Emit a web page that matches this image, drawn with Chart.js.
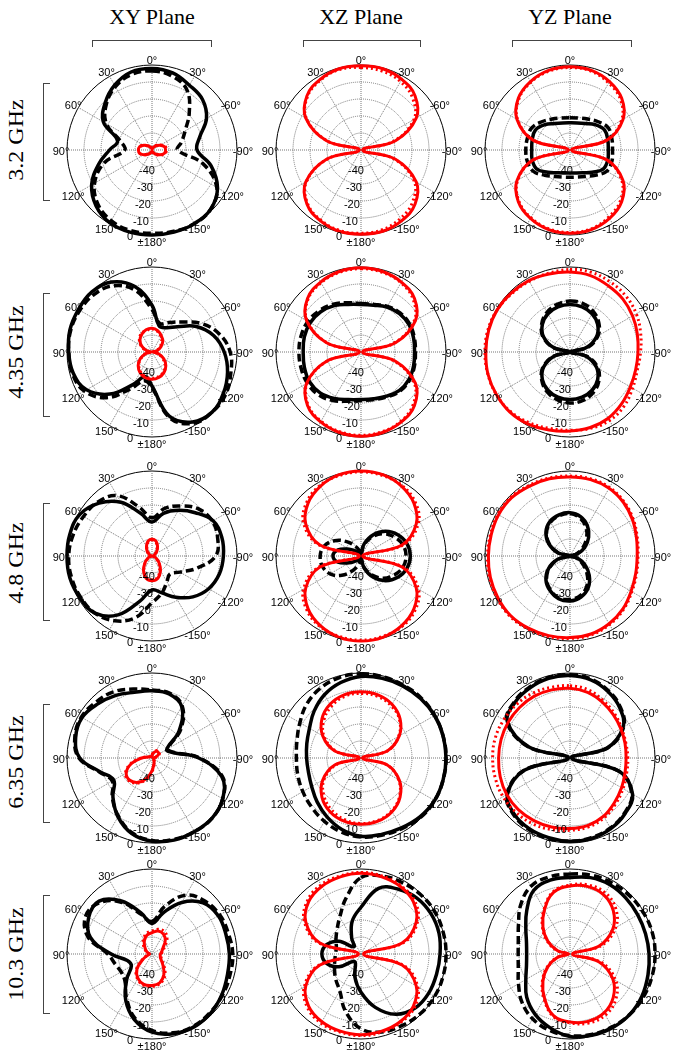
<!DOCTYPE html>
<html lang="en">
<head>
  <meta charset="UTF-8" />
  <title>Radiation patterns</title>
  <script src="https://cdn.jsdelivr.net/npm/chart.js"></script>
  <style>
    body { margin: 0; background: #fff; }
    #page {
      position: relative; width: 674px; height: 1055px; overflow: hidden;
      font-family: "Liberation Serif", "Times New Roman", serif; color: #000;
    }
    .plane {
      position: absolute; top: 3px; width: 160px; margin-left: -80px;
      text-align: center; font-size: 22px; line-height: 28px;
      font-family: "Liberation Serif", "Times New Roman", serif;
    }
    .btop {
      position: absolute; top: 40px; height: 6px;
      border: 1.5px solid #444; border-bottom: none;
    }
    .freq {
      position: absolute; left: 16px; font-size: 20px; white-space: nowrap;
      transform: translate(-50%, -50%) rotate(-90deg) scaleX(1.2);
    }
    .bleft {
      position: absolute; left: 43px; width: 6px;
      border: 1.5px solid #444; border-right: none;
    }
    canvas { position: absolute; }
  </style>
</head>
<body>
<div id="page"></div>
<script>
  // category angles, 15 deg steps clockwise from the top of each plot
  const angles = [0, -15, -30, -45, -60, -75, -90, -105, -120, -135, -150, -165,
                  180, 165, 150, 135, 120, 105, 90, 75, 60, 45, 30, 15];
  const spokeLabels = ['0°', '30°', '-60°', '-90°', '-120°', '-150°', '±180°', '150°', '120°', '90°', '60°', '30°'];
  const radialTicks = [-40, -30, -20, -10, 0];
  const planes = ['XY Plane', 'XZ Plane', 'YZ Plane'];
  const freqs = ['3.2 GHz', '4.35 GHz', '4.8 GHz', '6.35 GHz', '10.3 GHz'];

  // gain in dB (co = black, cr = red; Sim = solid, Mea = dashed / dotted)
  const xy32_coSim = [-2,-3,-6,-8,-13,-21,-23.5,-14,-5.5,-1,0,0,0,0,-0.5,-3.5,-9,-17.5,-25,-29,-17,-11,-6,-2.5];
  const xy32_coMea = [-3.5,-5,-9,-19,-27.5,-32,-35,-19,-6,-1,0,-0.5,-1,-1,-2,-5,-11,-21,-34,-31,-19,-12,-7,-4];
  const xy32_crSim = [-49.5,-49,-48,-46.5,-44.5,-42.5,-42,-42.5,-44.5,-46.5,-48,-49,-49.5,-49,-48,-46.5,-44.5,-42.5,-42,-42.5,-44.5,-46.5,-48,-49];
  const xy32_crMea = [-49.5,-49,-47.5,-46,-44,-42,-41.5,-42,-44,-46,-47.5,-49,-49.5,-49,-48,-46.5,-44.5,-42.5,-42,-42.5,-44.5,-46.5,-48,-49];

  const xz32_crSim = [-0.5,-0.5,-2,-5,-12.5,-29,-49,-29,-12.5,-5,-2,-0.5,-0.5,-0.5,-2,-5,-12.5,-29,-49,-29,-12.5,-5,-2,-0.5];
  const xz32_crMea = [-1.5,-2,-3.5,-7,-14,-30,-49,-30,-14,-7,-3.5,-1.5,-1,-1,-2.5,-5.5,-13,-29.5,-49,-29.5,-13,-5.5,-2.5,-1];

  const yz32_coSim = [-34,-33.5,-32,-29,-26.5,-27,-27.5,-27,-27.5,-31.5,-34.5,-36,-36.5,-36,-34.5,-31.5,-27.5,-27,-27.5,-27,-26.5,-29,-32,-33.5];
  const yz32_coMea = [-31,-30.5,-29,-26.5,-24,-24.5,-25,-24.5,-25,-29,-32,-33.5,-34,-33.5,-32,-29,-25,-24,-24,-24,-24,-26.5,-29,-30.5];
  const yz32_crSim = [-1,-1.5,-3.5,-7,-14,-27.5,-49,-27.5,-14,-7,-3.5,-1.5,-1,-1.5,-3.5,-7,-14,-27.5,-49,-27.5,-14,-7,-3.5,-1.5];
  const yz32_crMea = [-1.5,-2,-4.5,-8,-15,-28,-49,-28,-15,-8,-4.5,-2,-1.5,-2,-4,-7.5,-14.5,-28,-49,-28,-14.5,-7.5,-4,-2];

  const xy435_coSim = [-22.5,-34,-33.5,-29,-20,-12.5,-7.5,-4,-1.5,0,-2.5,-11,-30,-35,-28,-15,-5.5,-2,-1,0,0,0,-2.5,-10];
  const xy435_coMea = [-25,-32.5,-30,-25,-16.5,-9,-4,-2,0,0,-1.5,-10,-29,-32.5,-25,-12,-4,-1.5,-1,-0.5,-1,-2,-5,-12.5];
  const xy435_crSim = [-36,-37,-39,-41,-44,-47,-49.5,-46,-42,-38.5,-36,-34.5,-34,-34.5,-36,-38.5,-42,-46,-49.5,-46.5,-43,-40,-38,-36.5];
  const xy435_crMea = [-36.5,-37.5,-39.5,-42,-45,-47.5,-49.5,-46.5,-43,-39,-36.5,-35,-34.5,-35,-36.5,-39,-42.5,-46,-49.5,-46,-42.5,-39.5,-37.5,-37];

  const xz435_coSim = [-22,-21.5,-19.5,-18,-17.5,-18,-18.5,-18,-17.5,-18,-20,-21.5,-22,-21,-18.5,-16,-15,-15.5,-16,-15.5,-15.5,-16.5,-18.5,-21];
  const xz435_coMea = [-21.5,-21,-19,-17.5,-17,-17.5,-18,-17.5,-17,-17.5,-19.5,-21,-21.5,-20,-17,-14.5,-13.5,-13.5,-13.5,-13.5,-14,-15.5,-17.5,-20];
  const xz435_crSim = [-0.5,-1,-2.5,-5.5,-13,-29,-49,-29,-13,-5.5,-2.5,-1,-0.5,-1,-2.5,-5.5,-13,-29,-49,-29,-13,-5.5,-2.5,-1];
  const xz435_crMea = [-1,-1.5,-3,-6.5,-14,-30,-49,-30,-14,-6.5,-3,-1.5,-1,-1.5,-3,-6,-13.5,-29.5,-49,-29.5,-13.5,-6,-3,-1.5];

  const yz435_coSim = [-22,-22.5,-24,-27,-32,-40,-49.5,-40,-32,-27,-24,-22.5,-22,-22.5,-24,-27,-32,-40,-49.5,-40,-32,-27,-24,-22.5];
  const yz435_coMea = [-20,-20.5,-22.5,-26,-31,-39,-49.5,-39,-31,-26,-22.5,-20.5,-20,-21,-23,-26.5,-31.5,-39.5,-49.5,-39.5,-31.5,-26.5,-23,-21];
  const yz435_crSim = [-3,-3.5,-5,-6,-7.5,-9,-10,-10,-9,-7,-5,-4,-3.5,-2.5,-1,0,0,0,-0.5,-0.5,-0.5,-1,-1.5,-2.5];
  const yz435_crMea = [-1.5,-1.5,-2.5,-3.5,-5,-7,-8.5,-9,-7.5,-5,-3.5,-3.5,-4,-3.5,-2,-0.5,0,0,0,0,-0.5,-1.5,-2,-2];

  const xy48_coSim = [-30,-24,-19,-14,-8.5,-7.5,-8,-9,-11.5,-16,-22,-27.5,-30,-22.5,-10,-2.5,-1,0,0,0,-1,-6,-13.5,-24];
  const xy48_coMea = [-27.5,-21,-16,-11,-9,-10,-12.5,-22.5,-31,-35,-32.5,-27.5,-22.5,-12.5,-6,-2.5,-1.5,-1,-1,-2,-3.5,-5,-9,-20];
  const xy48_crSim = [-40,-41,-43.5,-46,-48,-49,-49.5,-49,-47,-44,-40,-36.5,-35.5,-36.5,-40,-44,-47,-49,-49.5,-49,-48,-46,-43.5,-41];
  const xy48_crMea = [-40.5,-41.5,-44,-46.5,-48,-49,-49.5,-49,-47.5,-44.5,-41,-37,-36,-37,-40.5,-44.5,-47.5,-49,-49.5,-49,-48,-46.5,-44,-41.5];

  const xz48_coSim = [-49,-42.5,-35.5,-29.5,-25,-22,-21,-22,-25,-29.5,-35.5,-42.5,-49,-48.5,-47.5,-46,-42,-36,-33.5,-36,-42,-46,-47.5,-48.5];
  const xz48_coMea = [-49,-43,-37,-31.5,-27.5,-24.5,-23.5,-24.5,-27.5,-31.5,-37,-43,-48,-45,-40,-34,-29,-26.5,-26,-27.5,-32,-38,-43.5,-47];
  const xz48_crSim = [0,-0.5,-2.5,-6,-12.5,-25,-49,-25,-12.5,-6,-2.5,-0.5,0,-0.5,-2.5,-6,-12.5,-25,-49,-25,-12.5,-6,-2.5,-0.5];
  const xz48_crMea = [-0.5,-1,-2,-5,-11,-24,-48,-24,-11,-5,-2,-1,-0.5,-1,-2,-5,-11,-24,-48,-24,-11,-5,-2,-1];

  const yz48_coSim = [-24.5,-26,-29.5,-34.5,-40,-45.5,-50,-45.5,-40,-34,-28.5,-25,-23.5,-24,-26.5,-30,-35.5,-42.5,-50,-42.5,-35.5,-30,-26.5,-25];
  const yz48_coMea = [-25,-27,-31,-36.5,-42,-46.5,-50,-46.5,-42,-36,-30,-26,-24.5,-24.5,-27,-30.5,-36,-43,-50,-43,-36,-30.5,-27,-25.5];
  const yz48_crSim = [-3.5,-3.5,-4,-5.5,-7.5,-9.5,-10.5,-10,-8.5,-6,-4,-2.5,-2,-1.5,-1,-0.5,-1,-1.5,-2,-2,-1.5,-1.5,-2.5,-3];
  const yz48_crMea = [-3,-3,-3.5,-5,-7,-9,-10,-9.5,-8,-5.5,-3.5,-2,-1.5,-1,-0.5,0,-0.5,-1,-1.5,-1.5,-1,-1,-2,-2.5];

  const xy635_coSim = [-10.5,-11,-15,-27.5,-40,-37.5,-22.5,-7.5,-2,0,0,0,-1,-4,-10,-17.5,-24,-18.5,-7.5,-3.5,-2.5,-5,-7.5,-10];
  const xy635_coMea = [-10,-10.5,-14.5,-26,-39,-37,-22,-7,-2,0,0,-0.5,-1.5,-4.5,-10.5,-17,-23,-18,-7,-3,-2,-3.5,-5,-8];
  const xy635_crSim = [-48.5,-47,-45.5,-45,-45.5,-47.5,-49,-49,-49,-48.5,-47.5,-46,-42.5,-37.5,-33.5,-31.5,-32.5,-37.5,-44,-47.5,-48.5,-49,-49,-49];
  const xy635_crMea = [-48,-46.5,-45,-44.5,-45,-47,-49,-49,-49,-48.5,-47,-45.5,-42,-37,-33,-31,-32,-37,-43.5,-47,-48.5,-49,-49,-48.5];

  const xz635_coSim = [-2,-1.5,-1,-0.5,0,0,0,0,0,-1,-2.5,-3.5,-4,-6.5,-10,-13.5,-16.5,-18,-18,-17,-15,-11,-7,-4];
  const xz635_coMea = [-0.5,-0.5,-0.5,0,0,0,0,0,0,-0.5,-2,-3,-3.5,-5,-7,-9,-10.5,-11.5,-12,-11,-8.5,-5,-2.5,-1];
  const xz635_crSim = [-11,-11.5,-13.5,-17.5,-24,-34,-49,-34,-24,-17.5,-13.5,-11.5,-11,-11.5,-13.5,-17.5,-24,-34,-49,-34,-24,-17.5,-13.5,-11.5];
  const xz635_crMea = [-12,-12.5,-14.5,-18,-24.5,-34,-49,-34,-24.5,-18,-14,-12,-11.5,-12.5,-15,-19,-25,-35,-49,-35,-25,-19,-15,-12.5];

  const yz635_coSim = [-1.5,-2.5,-5,-8.5,-14,-27.5,-49,-20,-7.5,-4,-2,-1,-1,-1.5,-2,-3.5,-7.5,-22.5,-49,-25,-7.5,-4,-2.5,-1.5];
  const yz635_coMea = [-1,-2,-4.5,-8,-13.5,-27,-49,-20.5,-8,-4.5,-2.5,-1.5,-1,-1,-1.5,-3,-7,-22,-49,-24.5,-7,-3.5,-2,-1];
  const yz635_crSim = [-9,-10,-12,-14,-15.5,-16.5,-17,-16.5,-15,-13,-10.5,-9,-8.5,-8,-7.5,-7,-7,-7.5,-8,-8,-8,-8,-8,-8.5];
  const yz635_crMea = [-7.5,-8.5,-11,-13,-15,-16,-16,-15.5,-14,-12,-9.5,-8,-7.5,-6.5,-5.5,-5,-4.5,-4.5,-4.5,-4.5,-5,-5.5,-6,-7];

  const xy103_coSim = [-32,-25,-15,-7.5,-5,-5,-4.5,-4,-2.5,-1,-0.5,-1.5,-4,-10,-19,-29,-36,-35,-26,-12.5,-7,-6,-14,-25];
  const xy103_coMea = [-31,-21,-10,-6,-4,-3.5,-2.5,-2.5,-2,-1.5,-1,-2,-5,-11,-20,-27.5,-29,-27.5,-24,-11,-5,-7,-15,-26];
  const xy103_crSim = [-37.5,-36,-36.5,-39,-42.5,-44,-45,-45,-44,-41,-36,-32.5,-31.5,-31.5,-33.5,-37.5,-44,-47.5,-48.5,-47.5,-46,-44,-41,-38.5];
  const xy103_crMea = [-36.5,-35,-35,-37.5,-41.5,-43.5,-44.5,-44.5,-43.5,-40,-35,-32,-31,-31,-33,-37,-43.5,-47,-48.5,-47,-45.5,-43,-40,-37.5];

  const xz103_coSim = [-22.5,-10,-6,-3.5,-2.5,-2.5,-3.5,-4,-4,-5,-9,-17.5,-27.5,-36,-43.5,-44,-35,-29,-27,-29,-35,-44,-39,-30];
  const xz103_coMea = [-5,-2.5,-1.5,-0.5,0,0,0,0,0,-0.5,-1.5,-2.5,-6,-15,-25,-29,-32,-34,-35,-35,-33,-30,-25,-16];
  const xz103_crSim = [-2.5,-3,-4,-6.5,-12.5,-25,-48.5,-25,-12.5,-6.5,-4,-3,-2.5,-3,-4,-6.5,-12.5,-25,-48.5,-25,-12.5,-6.5,-4,-3];
  const xz103_crMea = [-2,-2.5,-3.5,-5.5,-11.5,-24,-48,-24,-11.5,-5.5,-3.5,-2.5,-2,-2.5,-3,-5.5,-11.5,-24,-48,-24,-11.5,-5.5,-3,-2.5];

  const yz103_coSim = [-5,-3.5,-3,-3.5,-4,-4,-3.5,-2.5,-1,0,0,-0.5,-1.5,-5,-9,-14,-20,-23.5,-24.5,-23.5,-20,-14,-7,-5];
  const yz103_coMea = [-3,-2,-1.5,-1,-0.5,0,0,0,0,0,-0.5,-1,-2,-3.5,-6,-10,-15,-18.5,-19.5,-18.5,-15,-9,-4,-3];
  const yz103_crSim = [-10,-9,-10,-14,-21,-32.5,-48.5,-32.5,-21,-14,-10,-9,-10,-12.5,-20,-27.5,-35,-42.5,-49,-42.5,-35,-27.5,-20,-12.5];
  const yz103_crMea = [-9.5,-8,-8.5,-12,-19,-31,-48.5,-31,-19,-12,-8.5,-8,-9.5,-12,-19.5,-27,-34.5,-42,-49,-42,-34.5,-27,-19.5,-12];

  // [row][col] -> curves (co: black pair, cr: red pair)
  const grid = [
    [{co: [xy32_coSim, xy32_coMea], cr: [xy32_crSim, xy32_crMea]},
     {co: null, cr: [xz32_crSim, xz32_crMea]},
     {co: [yz32_coSim, yz32_coMea], cr: [yz32_crSim, yz32_crMea]}],
    [{co: [xy435_coSim, xy435_coMea], cr: [xy435_crSim, xy435_crMea]},
     {co: [xz435_coSim, xz435_coMea], cr: [xz435_crSim, xz435_crMea]},
     {co: [yz435_coSim, yz435_coMea], cr: [yz435_crSim, yz435_crMea]}],
    [{co: [xy48_coSim, xy48_coMea], cr: [xy48_crSim, xy48_crMea]},
     {co: [xz48_coSim, xz48_coMea], cr: [xz48_crSim, xz48_crMea]},
     {co: [yz48_coSim, yz48_coMea], cr: [yz48_crSim, yz48_crMea]}],
    [{co: [xy635_coSim, xy635_coMea], cr: [xy635_crSim, xy635_crMea]},
     {co: [xz635_coSim, xz635_coMea], cr: [xz635_crSim, xz635_crMea]},
     {co: [yz635_coSim, yz635_coMea], cr: [yz635_crSim, yz635_crMea]}],
    [{co: [xy103_coSim, xy103_coMea], cr: [xy103_crSim, xy103_crMea]},
     {co: [xz103_coSim, xz103_coMea], cr: [xz103_crSim, xz103_crMea]},
     {co: [yz103_coSim, yz103_coMea], cr: [yz103_crSim, yz103_crMea]}]
  ];

  const page = document.getElementById('page');
  const colX = [152, 361, 570];
  const rowY = [150, 352, 556, 758, 954];
  const brTop = [[92, 210], [303, 419], [512, 630]];
  const brLeft = [[83, 199], [293, 415], [503, 619], [704, 821], [895, 1012]];
  const freqY = [140, 352, 563, 762, 954];
  const SIZE = 220, RAD = 85;

  function addDiv(cls, text, css) {
    const d = document.createElement('div');
    d.className = cls;
    if (text) d.textContent = text;
    Object.assign(d.style, css);
    page.appendChild(d);
  }

  planes.forEach((p, i) => {
    addDiv('plane', p, {left: colX[i] + 'px'});
    addDiv('btop', '', {left: brTop[i][0] + 'px', width: (brTop[i][1] - brTop[i][0]) + 'px'});
  });
  freqs.forEach((f, i) => {
    addDiv('freq', f, {top: freqY[i] + 'px'});
    addDiv('bleft', '', {top: brLeft[i][0] + 'px', height: (brLeft[i][1] - brLeft[i][0]) + 'px'});
  });

  // angle labels and dB ticks drawn on top of the curves
  const polarText = {
    id: 'polarText',
    afterDatasetsDraw(chart) {
      const s = chart.scales.r;
      const ctx = chart.ctx;
      ctx.save();
      ctx.font = '11px "Liberation Sans", Arial, sans-serif';
      ctx.fillStyle = '#000';
      ctx.textAlign = 'center';
      ctx.textBaseline = 'middle';
      spokeLabels.forEach((t, k) => {
        const p = s.getPointPosition(k * 2, s.drawingArea + 6);
        ctx.fillText(t, p.x, p.y + 1.5);
      });
      radialTicks.forEach(v => {
        const d = s.getDistanceFromCenterForValue(v);
        if (v === 0) {
          ctx.fillText(String(v), s.xCenter - 22, s.yCenter + d + 2);
        } else {
          ctx.fillText(String(v), s.xCenter - 3 - 0.12 * d, s.yCenter + d + 4);
        }
      });
      ctx.restore();
    }
  };

  function curve(data, color, dash, width) {
    return {
      data, borderColor: color, borderWidth: width, borderDash: dash,
      fill: false, pointRadius: 0, tension: 0.4, clip: false
    };
  }

  grid.forEach((row, r) => {
    row.forEach((cell, c) => {
      const cv = document.createElement('canvas');
      cv.width = SIZE; cv.height = SIZE;
      cv.style.left = (colX[c] - SIZE / 2) + 'px';
      cv.style.top = (rowY[r] - SIZE / 2) + 'px';
      page.appendChild(cv);

      const datasets = [];
      if (cell.cr) {
        datasets.push(curve(cell.cr[0], '#ff0000', [], 3));
        datasets.push(curve(cell.cr[1], '#ff0000', [2, 3], 3));
      }
      if (cell.co) {
        datasets.push(curve(cell.co[0], '#000000', [], 3.5));
        datasets.push(curve(cell.co[1], '#000000', [8, 4], 3.5));
      }

      new Chart(cv, {
        type: 'radar',
        data: { labels: angles, datasets },
        options: {
          responsive: false,
          animation: false,
          events: [],
          layout: { padding: SIZE / 2 - RAD },
          plugins: { legend: { display: false }, tooltip: { enabled: false } },
          scales: {
            r: {
              min: -50, max: 0,
              ticks: { display: false, stepSize: 10 },
              pointLabels: { display: false },
              grid: {
                circular: true,
                color: (ctx) => ctx.tick && ctx.tick.value === 0 ? '#000' : '#777',
                lineWidth: 1
              },
              border: { dash: (ctx) => ctx.tick && ctx.tick.value === 0 ? [] : [1, 1] },
              angleLines: {
                color: '#777',
                lineWidth: (ctx) => ctx.index % 2 === 0 ? 1 : 0,
                borderDash: [1, 1]
              }
            }
          }
        },
        plugins: [polarText]
      });
    });
  });
</script>
</body>
</html>
